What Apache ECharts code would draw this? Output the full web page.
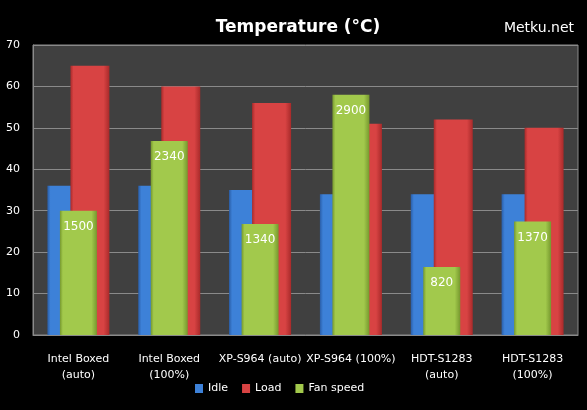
<!DOCTYPE html>
<html>
<head>
<meta charset="utf-8">
<script src="https://cdn.jsdelivr.net/npm/echarts@6/dist/echarts.min.js"></script>
<style>
html, body { margin: 0; padding: 0; background: #000; }
#chart { width: 587px; height: 410px; }
</style>
</head>
<body>
<div id="chart"></div>
<script>
var categories = ['Intel Boxed\n(auto)', 'Intel Boxed\n(100%)', 'XP-S964 (auto)', 'XP-S964 (100%)', 'HDT-S1283\n(auto)', 'HDT-S1283\n(100%)'];
var idle = [36, 36, 35, 34, 34, 34];
var load = [65, 60, 56, 51, 52, 50];
var fanSpeed = [1500, 2340, 1340, 2900, 820, 1370];
var tempTicks = [0, 70, 10];   // min, max, interval
var fanMax = 3500;

// bevel-ish gradient for the bars
function grad(dark, mid) {
    return new echarts.graphic.LinearGradient(0, 0, 1, 0, [
        { offset: 0, color: dark },
        { offset: 0.08, color: mid },
        { offset: 0.85, color: mid },
        { offset: 1, color: dark }
    ]);
}

var chart = echarts.init(document.getElementById('chart'));
var option = {
    backgroundColor: '#000',
    textStyle: { fontFamily: 'DejaVu Sans' },
    title: [{
        text: 'Temperature (°C)',
        left: 293, top: 14, textAlign: 'center',
        textStyle: { color: '#fff', fontSize: 17, fontWeight: 'bold', fontFamily: 'DejaVu Sans' }
    }, {
        text: 'Metku.net',
        left: 534, top: 16, textAlign: 'center',
        textStyle: { color: '#fff', fontSize: 14, fontWeight: 'normal', fontFamily: 'DejaVu Sans' }
    }],
    legend: {
        bottom: 11, left: 190,
        icon: 'rect',
        itemWidth: 8, itemHeight: 9, itemGap: 14,
        textStyle: { color: '#fff', fontSize: 11 },
        data: [
            { name: 'Idle', itemStyle: { color: '#3d81d8' } },
            { name: 'Load', itemStyle: { color: '#d84343' } },
            { name: 'Fan speed', itemStyle: { color: '#a2c94c' } }
        ]
    },
    grid: {
        left: 33, right: 9, top: 45, bottom: 75,
        show: true, backgroundColor: '#404040', borderColor: '#8a8a8a', borderWidth: 1
    },
    xAxis: [{
        type: 'category',
        data: categories,
        axisTick: { show: false },
        axisLine: { lineStyle: { color: '#8a8a8a' } },
        axisLabel: { color: '#fff', fontSize: 11, interval: 0, margin: 16, lineHeight: 16 }
    }, {
        type: 'category',
        data: categories,
        show: false
    }],
    yAxis: [{
        type: 'value',
        min: tempTicks[0], max: tempTicks[1], interval: tempTicks[2],
        axisLine: { show: true, lineStyle: { color: '#8a8a8a' } },
        axisLabel: { color: '#fff', fontSize: 11, margin: 13 },
        splitLine: { lineStyle: { color: '#8a8a8a' } }
    }, {
        type: 'value',
        min: 0, max: fanMax,
        show: false,
        splitLine: { show: false }
    }],
    series: [{
        name: 'Idle',
        type: 'bar',
        data: idle,
        barWidth: 39,
        barGap: '-41%',
        itemStyle: { color: grad('#2a5ea8', '#3d81d8') }
    }, {
        name: 'Load',
        type: 'bar',
        data: load,
        barWidth: 39,
        itemStyle: { color: grad('#a82a2a', '#d84343') }
    }, {
        name: 'Fan speed',
        type: 'bar',
        xAxisIndex: 1,
        yAxisIndex: 1,
        data: fanSpeed,
        barWidth: 37,
        itemStyle: { color: grad('#76982e', '#a2c94c') },
        label: {
            show: true,
            position: 'insideTop',
            distance: 10,
            color: '#fff',
            fontSize: 12
        }
    }]
};
chart.setOption(option);
</script>
</body>
</html>
